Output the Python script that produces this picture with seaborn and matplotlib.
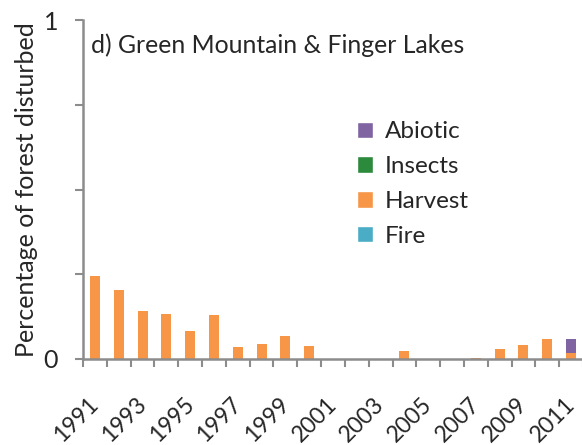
import matplotlib
matplotlib.use("Agg")
import matplotlib.pyplot as plt
import matplotlib.transforms as mtransforms
import seaborn as sns
import pandas as pd
import numpy as np
from matplotlib.patches import Patch

years = [str(y) for y in range(1991, 2012)]
fire = [0]*21
harvest = [0.245, 0.203, 0.143, 0.134, 0.083, 0.130, 0.036, 0.044, 0.068, 0.038,
           0, 0, 0, 0.025, 0, 0, 0.003, 0.030, 0.040, 0.060, 0.017]
insects = [0]*18 + [0.002, 0, 0]
abiotic = [0]*20 + [0.043]

series_names = ["Fire", "Harvest", "Insects", "Abiotic"]
colors = {"Fire": "#4BACC6", "Harvest": "#F79646", "Insects": "#2B8A3B", "Abiotic": "#8064A2"}
tick_labels = [str(y) for y in range(1991, 2012, 2)]

sns.set_theme(style="white")
plt.rcParams['font.family'] = ['Lato', 'DejaVu Sans']

df = pd.DataFrame({"year": years, "Fire": fire, "Harvest": harvest,
                   "Insects": insects, "Abiotic": abiotic})
cum = df[series_names].cumsum(axis=1)

fig = plt.figure(figsize=(5.82, 4.45), dpi=100)
ax = fig.add_axes([83/582, 86/445, 500/582, 339/445])

gray = "#8C8C8C"
for name in reversed(series_names):
    sns.barplot(x=df["year"], y=cum[name], order=years, color=colors[name],
                width=0.42, ax=ax, saturation=1, linewidth=0, errorbar=None)

ax.set_xlim(-0.5, 20.5)
ax.set_ylim(0, 1)
ax.set_yticks([0, 0.25, 0.5, 0.75, 1])
ax.set_yticklabels(["0", "", "", "", "1"], fontsize=18)
ax.set_xticks(np.arange(-0.5, 21, 1), minor=True)
ax.tick_params(axis="x", which="major", length=0, pad=25)
ax.tick_params(axis="x", which="minor", length=6, width=1.5, color=gray, bottom=True)
ax.tick_params(axis="y", which="major", length=6, width=1.5, color=gray, left=True, pad=12)
ax.set_xticks(range(0, 21, 2))
ax.set_xticklabels(tick_labels, rotation=45, ha="right", va="top",
                   rotation_mode="anchor", fontsize=16.5)
offset = mtransforms.ScaledTranslation(-7/100, 0, fig.dpi_scale_trans)
for lab in ax.get_xticklabels():
    lab.set_transform(lab.get_transform() + offset)
ax.set_xlabel("")
ax.set_ylabel("Percentage of forest disturbed", fontsize=18, labelpad=4)
for s in ["top", "right"]:
    ax.spines[s].set_visible(False)
for s in ["left", "bottom"]:
    ax.spines[s].set_color(gray)
    ax.spines[s].set_linewidth(1.8)

ax.text(0.016, 0.925, "d) Green Mountain & Finger Lakes", transform=ax.transAxes,
        fontsize=17.8, va="center", ha="left")

handles = [Patch(facecolor=colors[n], label=n) for n in reversed(series_names)]
ax.legend(handles=handles, loc="upper left", bbox_to_anchor=(0.529, 0.73), frameon=False,
          fontsize=17.5, handlelength=0.65, handleheight=0.65, handletextpad=0.5,
          labelspacing=0.57, borderaxespad=0)

fig.savefig("out.png", dpi=100)
